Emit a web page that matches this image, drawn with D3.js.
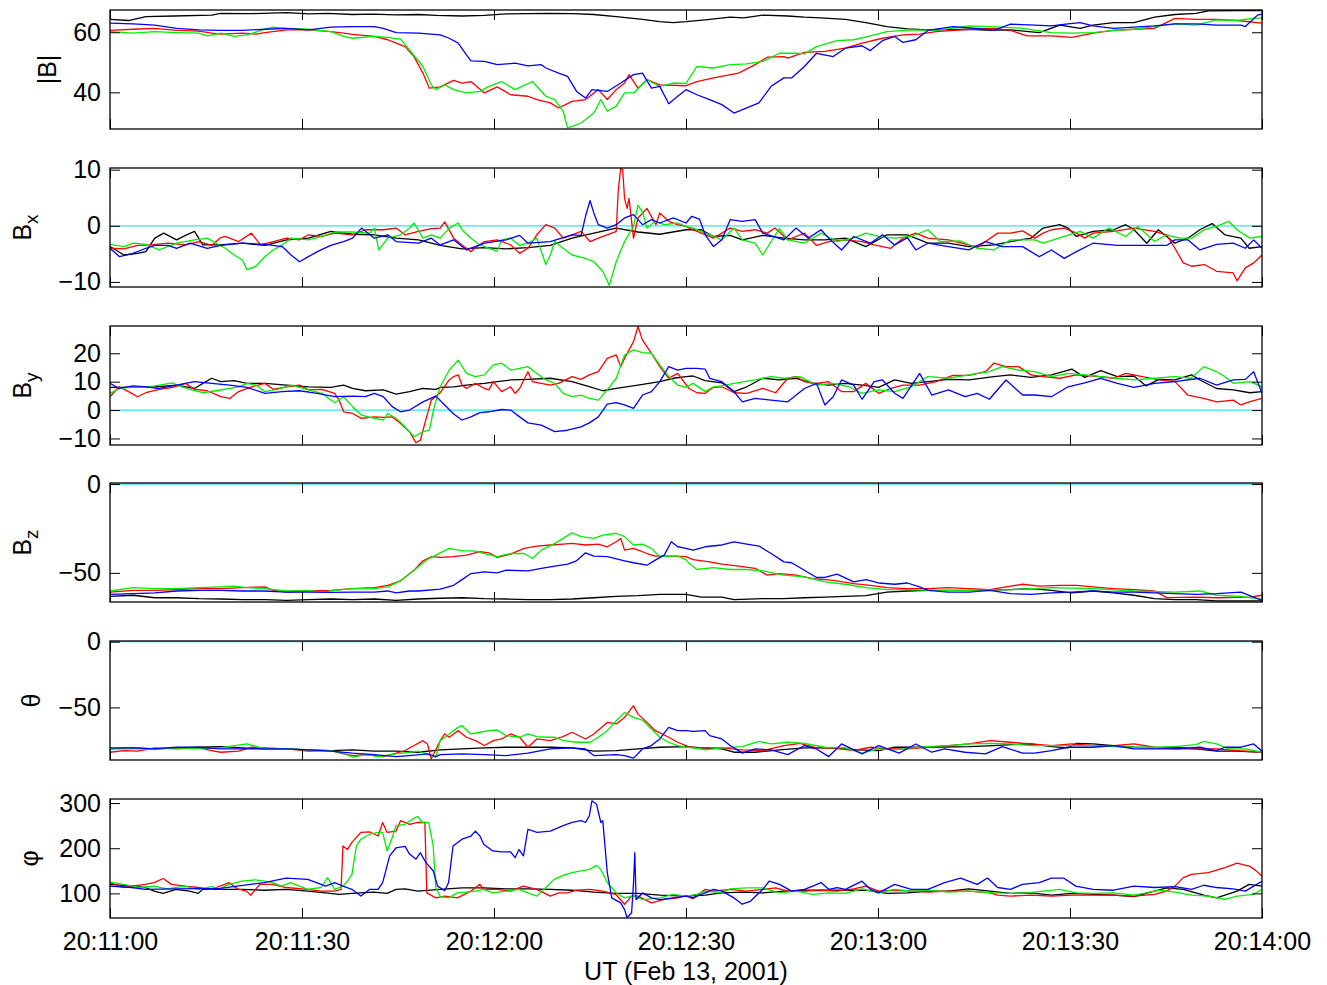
<!DOCTYPE html>
<html><head><meta charset="utf-8">
<script src="https://cdn.jsdelivr.net/npm/d3@7"></script>
<style>body{margin:0;background:#fff}text{font-family:"Liberation Sans",Arial,Helvetica,sans-serif}</style>
</head><body><svg id="c" width="1327" height="985"></svg>
<script>
// ---------------- data (time in seconds after 20:11:00, value) ----------------
const timeTicks=[0,30,60,90,120,150,180];
const timeLabels=["20:11:00","20:11:30","20:12:00","20:12:30","20:13:00","20:13:30","20:14:00"];
const xTitle="UT (Feb 13, 2001)";
const seriesColors=["#000000","#ff0000","#00ee00","#0000ff"];

const bmagTicks=[40,60];
const bmag_c1=[[0,64.3],[2.9,63.9],[5.6,65.2],[10,65.4],[15.9,65.7],[17.3,66.3],[22,66.2],[27.6,66.5],[31,66.1],[34,66.3],[37.9,65.9],[41,66.0],[44.7,65.8],[48.2,65.9],[51,65.6],[55,65.4],[58.5,65.6],[61.9,66.1],[65,66.2],[68.8,66.3],[72.2,66.2],[75.6,65.9],[79.1,65.2],[83.2,64.3],[85.9,63.5],[88,63.2],[90,63.5],[93,64.1],[96.9,65.0],[99,64.8],[102,65.7],[105.9,65.4],[108.5,65.0],[111,64.8],[114.9,64.3],[118.1,63.2],[121.4,61.9],[124.6,61.1],[127.8,60.8],[131,60.9],[134.2,61.0],[137,60.7],[140.7,60.8],[145.2,59.9],[148.4,62.4],[151.6,61.3],[153.6,62.4],[156.8,63.2],[160,63.2],[163.2,65.0],[166.4,65.9],[169.7,66.3],[171.6,67.1],[176.1,67.2],[180,67.2]];
const bmag_c2=[[0,60.6],[3.6,61.0],[7,61.3],[10.4,60.6],[13.9,60.4],[15.9,59.7],[17.3,59.4],[20.7,59.7],[22.8,59.4],[24.2,59.9],[27.6,60.8],[31,60.8],[34.5,60.2],[36.5,59.7],[37.9,59.3],[41.3,58.6],[43.4,57.5],[44.7,56.4],[46.1,55.2],[47.5,51.9],[48.9,46.4],[49.9,41.4],[51.6,41.8],[53.7,44.0],[55,43.1],[56.4,43.6],[58.5,39.8],[60.5,41.8],[62.6,39.2],[65.3,38.7],[66.7,37.6],[68.8,36.5],[70.1,34.8],[72.2,37.0],[74.3,37.6],[76.3,40.9],[77.7,37.6],[79.1,40.9],[80.4,43.1],[81.1,45.9],[82.5,41.4],[83.9,44.2],[85.9,42.5],[90,42.2],[91.7,43.6],[94.3,44.8],[98.2,46.4],[100.8,49.2],[102.7,51.7],[105.3,51.9],[105.9,51.4],[108.5,53.3],[111.7,53.6],[114.9,54.7],[117.5,56.4],[120.7,58.0],[123.9,59.1],[126.5,59.4],[129.1,60.2],[134.2,61.0],[138.1,61.3],[140.7,60.6],[143.3,58.8],[147.1,58.8],[150.3,58.3],[153.6,59.7],[156.8,60.6],[160,61.0],[163.2,61.3],[166.4,64.6],[169.7,64.3],[172.9,64.3],[176.1,63.9],[180,63.0]];
const bmag_c3=[[0,60.2],[3.6,59.7],[7,60.2],[10.4,59.9],[13.9,59.7],[15.2,58.8],[17.3,59.7],[19.4,58.6],[21.4,59.1],[24.2,61.0],[25.5,61.7],[27.6,61.3],[31,61.0],[34.5,60.2],[36.5,58.6],[37.9,58.0],[41.3,58.6],[43.4,58.3],[45.4,57.7],[46.8,54.1],[48.9,48.6],[50.2,42.5],[50.9,40.9],[52.3,42.5],[53.7,40.9],[55.7,39.8],[57.8,40.3],[59.2,42.0],[61.2,43.6],[63.3,40.9],[66,43.6],[68.1,38.7],[69.5,37.6],[70.8,33.7],[71.5,28.2],[72.2,28.7],[73.6,29.8],[75.6,33.1],[76.7,37.6],[77.7,33.7],[79.1,35.4],[80.4,39.8],[81.8,39.8],[83.9,44.2],[85.9,42.0],[88,43.1],[90,43.0],[91.7,48.6],[94.3,48.1],[96.9,49.2],[99.5,49.5],[102,50.3],[104.6,53.0],[107.2,53.0],[108.5,52.8],[110.4,55.2],[113.6,57.2],[116.2,57.5],[118.8,58.8],[121.4,60.2],[125.2,60.8],[129.1,60.6],[134.2,62.1],[139.4,61.7],[142.6,61.3],[147.1,59.9],[150.3,59.7],[153.6,59.9],[156.8,60.6],[160,61.0],[163.2,61.9],[166.4,62.8],[169.7,62.4],[172.9,64.1],[176.1,63.9],[178.7,64.6],[180,64.8]];
const bmag_c4=[[0,63.0],[3.6,62.8],[7,62.4],[10.4,61.3],[13.9,60.8],[17.3,60.6],[20.7,60.6],[24.2,61.0],[27.6,61.3],[31,60.8],[34.5,61.7],[37.9,61.9],[41.3,61.9],[42.7,61.3],[44.7,59.9],[48.2,59.7],[51.6,59.1],[53,58.0],[54.4,56.4],[55.7,52.5],[56.4,50.5],[58.5,50.3],[60.5,49.2],[63.3,49.7],[65.3,48.8],[67.4,49.2],[68.1,48.1],[70.1,46.4],[71.5,45.3],[72.9,40.3],[74.3,38.1],[75.3,40.9],[77.7,40.3],[79.8,43.1],[81.8,45.9],[83.2,46.4],[84.6,41.4],[85.9,42.0],[87.3,36.2],[88.7,38.7],[90,40.9],[91.7,39.2],[93.7,37.6],[95.6,35.9],[97.5,33.1],[99.5,34.8],[101.4,36.5],[103.3,42.0],[105.3,44.8],[106.5,44.8],[108.5,48.6],[110.4,53.0],[113,51.9],[114.9,54.7],[117.5,55.5],[118.8,53.9],[120.7,57.2],[122.6,58.6],[123.9,56.6],[125.9,57.5],[127.8,60.6],[131.7,61.9],[135.5,61.3],[138.1,60.6],[140.7,62.7],[144.5,62.4],[147.1,62.1],[149.7,62.8],[151.6,63.2],[153.6,62.1],[156.8,61.3],[160,61.7],[163.2,62.1],[166.4,62.8],[169.7,62.8],[172.9,62.4],[176.7,62.4],[177.4,61.9],[179.3,65.7],[180,66.0]];

const bxTicks=[-10,0,10];
const bx_c1=[[0,-3.7],[2.2,-5.2],[4.3,-4.9],[5.6,-4.6],[7,-2.2],[8.4,-1.3],[10.4,-2.5],[11.8,-1.7],[13.2,-1.0],[14.5,-3.4],[17.3,-3.4],[20.7,-3.1],[24.2,-3.5],[27.6,-2.5],[31,-2.2],[34.5,-1.0],[37.9,-1.5],[41.3,-1.6],[44.7,-2.2],[48.2,-2.5],[51.6,-3.5],[55,-4.1],[58.5,-3.9],[61.9,-4.1],[65.3,-3.9],[68.8,-3.5],[72.2,-2.2],[75.6,-1.3],[79.1,-0.4],[82.5,-1.1],[85.9,-1.5],[90,-0.7],[92.4,-0.7],[94.3,-1.9],[96.9,-1.7],[98.8,-2.5],[102,-1.7],[105.3,-2.2],[108.5,-2.5],[111.7,-2.5],[114.9,-2.2],[118.1,-3.7],[121.4,-1.6],[124.6,-1.6],[127.8,-3.1],[131,-3.1],[134.2,-3.7],[138.1,-3.4],[140.7,-2.8],[143.9,-2.2],[145.8,-0.4],[148.4,0.2],[149.7,-0.4],[151,-1.9],[153.6,-1.0],[156.8,-0.7],[158.7,0.2],[160,-0.7],[162,-3.1],[163.8,-0.7],[166.4,-3.1],[168.4,-2.2],[170.3,-0.7],[172.2,0.4],[174.2,-1.6],[176.7,-2.2],[178,-4.0],[180,-3.7]];
const bx_c2=[[0,-4.0],[2.2,-4.1],[4.3,-3.5],[6.4,-3.4],[9.1,-3.1],[11.8,-3.4],[13.9,-2.8],[15.9,-3.5],[17.3,-2.1],[18.0,-1.9],[20.1,-2.8],[22.1,-1.3],[23.5,-3.4],[25.5,-2.8],[27.6,-2.2],[29.6,-2.5],[31,-1.6],[33.1,-1.9],[35.1,-1.3],[37.9,-1.6],[39.9,-0.7],[42.7,-0.7],[44.7,-0.4],[46.1,-1.6],[48.2,-1.0],[50.2,-0.5],[51.6,-0.4],[52.3,0.7],[53.7,-2.2],[55,-3.4],[56.4,-4.6],[57.1,-3.9],[58.5,-2.8],[60.5,-2.5],[62.6,-3.4],[64,-4.9],[65.3,-4.0],[66.7,-1.6],[68.1,0.2],[69.5,-0.4],[70.8,-2.2],[72.2,-1.6],[73.6,-1.0],[75,-2.8],[76.3,-2.2],[77.7,-1.6],[79.1,-1.0],[79.4,6.1],[79.8,10.3],[80.1,10.0],[80.4,4.9],[80.8,3.1],[81.1,4.9],[81.8,-2.2],[82.5,1.4],[83.9,3.1],[85.3,0.2],[85.9,2.3],[87.3,0.8],[88.7,0.2],[90,-0.1],[90.5,-0.4],[92.4,-1.3],[94.3,-2.2],[96.9,-0.4],[98.8,-1.0],[100.8,-0.7],[102.7,-1.3],[103.9,-0.4],[105.9,-2.5],[107.2,-1.9],[108.5,-1.3],[110.4,-3.5],[112.3,-2.8],[114.9,-2.5],[117.5,-2.8],[119.4,-3.4],[122,-4.0],[123.9,-2.2],[125.9,-1.3],[127.8,-2.2],[131,-2.5],[134.2,-3.4],[135.5,-3.9],[136.8,-2.8],[138.7,-1.3],[140.7,-1.3],[142.6,-0.9],[144.5,-2.2],[145.8,-1.3],[147.1,-0.7],[149.1,-0.4],[151,-1.3],[152.3,-2.2],[153.6,-1.3],[156.8,-1.0],[160,-0.4],[163.2,-1.0],[165.1,-1.6],[166.4,-4.0],[167.7,-6.6],[169,-7.2],[171,-6.9],[172.9,-8.1],[175.5,-8.4],[176.1,-9.8],[177.4,-7.5],[178.7,-6.6],[180,-5.2]];
const bx_c3=[[0,-3.3],[2.2,-3.7],[3.6,-3.1],[5.6,-3.3],[7.7,-4.3],[10.4,-3.1],[13.2,-2.5],[15.2,-2.2],[16.6,-3.1],[18,-4.0],[19.4,-5.2],[20.7,-6.1],[21.4,-7.8],[22.8,-7.2],[24.2,-5.5],[25.5,-4.3],[26.9,-3.4],[28.3,-2.2],[31,-2.5],[33.1,-1.9],[35.1,-1.1],[37.9,-1.1],[40.6,-1.3],[41.3,-0.4],[42,-4.3],[43.4,-2.2],[45.4,-1.6],[46.8,-0.4],[47.5,0.5],[48.9,-2.2],[50.2,-1.6],[51.6,-2.2],[53,-0.4],[54.4,0.5],[55,-0.7],[56.4,-2.2],[57.8,-3.4],[59.2,-4.0],[60.5,-4.5],[61.2,-2.5],[62.6,-2.2],[64,-3.5],[65.3,-3.1],[66.7,-2.2],[67.4,-4.6],[68.1,-6.9],[68.8,-5.2],[69.5,-2.8],[70.8,-4.0],[72.2,-5.2],[74.3,-5.8],[75.6,-6.4],[77,-8.1],[78,-10.6],[79.1,-6.4],[80.4,-2.8],[81.8,-0.1],[82.5,3.7],[83.2,2.5],[83.9,-0.4],[85.2,0.8],[86.6,0.2],[88.7,0.5],[90,-0.1],[91.1,-0.4],[93,-1.3],[95.6,-2.5],[97.5,-0.4],[98.8,-2.5],[100.8,-3.1],[102,-5.2],[103.3,-2.8],[104.6,-0.5],[105.9,-2.5],[108.5,-3.1],[111.1,-1.3],[113.6,-2.8],[116.2,-2.2],[118.1,-1.3],[120.1,-1.9],[122.6,-2.2],[125.2,-1.9],[127.8,-0.7],[129.7,-2.8],[132.9,-2.7],[135.5,-4.0],[138.1,-4.3],[140.7,-2.5],[144.5,-2.5],[145.8,-3.1],[149.1,-1.9],[151.6,-1.0],[153.6,-2.2],[156.1,-0.4],[158.7,-1.9],[160.6,-0.1],[163.2,-2.8],[165.1,-1.6],[167.1,-2.2],[169,-2.2],[171,-0.7],[172.9,-0.1],[174.8,0.8],[176.1,-0.7],[178.1,-2.2],[180,-1.9]];
const bx_c4=[[0,-4.0],[1.5,-5.5],[3.6,-4.9],[5.6,-4.0],[7,-3.5],[9.1,-3.5],[10.4,-4.0],[12.5,-3.1],[15.2,-4.0],[17.3,-3.5],[20.7,-3.1],[24.2,-3.3],[26.9,-3.7],[28.3,-5.2],[29.6,-6.4],[31,-5.5],[32.4,-4.6],[34.5,-3.5],[36.5,-2.8],[37.9,-2.2],[39.3,-0.4],[41.3,-2.2],[43.4,-1.6],[44.7,-2.8],[48.2,-3.1],[50.2,-2.2],[51.6,-3.4],[53.7,-2.5],[55.7,-4.3],[58.5,-3.1],[61.9,-2.5],[64,-1.7],[65.3,-3.1],[68.8,-2.8],[72.2,-1.6],[73.6,-1.7],[74.3,1.7],[75,4.5],[75.6,2.3],[76.3,0.2],[77.7,-0.4],[79.1,0.2],[80.4,1.4],[81.8,2.0],[83.2,0.2],[84.6,1.1],[85.9,0.5],[88,1.4],[90,0.5],[90.9,1.7],[92.1,1.2],[93.0,-1.6],[94.3,-3.7],[95.6,-2.5],[96.9,1.1],[98.8,0.8],[100.8,1.1],[102,-1.3],[105.3,-2.5],[107.2,-0.4],[109.1,-2.2],[111.1,-0.7],[112.3,-2.2],[114.3,-4.3],[116.2,-1.9],[118.8,-3.1],[120.7,-1.6],[122.6,-3.4],[124.6,-2.1],[125.9,-4.3],[127.8,-3.1],[131,-3.7],[134.2,-4.3],[136.8,-2.8],[139.4,-3.7],[142.6,-3.7],[145.2,-5.5],[147.1,-4.3],[149.1,-5.8],[151,-4.6],[153.6,-3.1],[157.4,-3.5],[160,-3.5],[161.9,-3.5],[165.1,-3.5],[166.4,-2.5],[168.4,-2.5],[170.3,-4.3],[172.9,-3.3],[175.5,-3.1],[177.4,-4.0],[178.7,-2.5],[180,-4.0]];

const byTicks=[-10,0,10,20];
const by_c1=[[0,8.0],[3.6,8.0],[7,8.2],[10.4,8.8],[13.2,7.6],[14.5,9.4],[15.9,11.2],[17.3,10.0],[19.4,10.4],[21.4,9.4],[24.2,9.4],[27.6,8.8],[31,8.2],[34.5,8.0],[36.5,8.8],[37.9,7.6],[39.9,6.8],[42.7,7.1],[44.7,5.6],[46.8,6.5],[48.9,7.6],[50.9,7.3],[51.6,8.0],[53.7,8.2],[55.7,8.8],[58.5,9.4],[60.5,10.0],[62.6,10.6],[65.3,10.8],[68.8,11.2],[72.2,10.0],[75,8.2],[77,6.8],[79.1,7.6],[82.5,8.8],[85.9,10.0],[88,11.2],[90,11.8],[91.1,12.0],[93,10.4],[95.6,9.6],[97.5,6.5],[99.5,8.2],[102,11.2],[104.6,10.6],[107.2,11.2],[109.8,9.4],[112.3,8.8],[114.9,9.4],[117.5,8.8],[120.1,8.0],[122.6,10.6],[125.2,9.4],[127.8,10.0],[131,10.8],[134.2,10.6],[138.1,11.8],[140.7,12.4],[143.9,11.5],[147.1,12.4],[150.3,14.4],[152.3,11.5],[154.8,13.9],[157.4,11.8],[160,12.0],[161.9,8.5],[163.9,10.8],[166.4,10.6],[169,12.4],[170.3,10.6],[172.9,7.6],[175.5,7.1],[178.1,6.1],[180,6.5]];
const by_c2=[[0,4.7],[1.4,8.2],[2.9,6.5],[4.3,4.7],[5.6,6.1],[7.7,7.3],[9.8,8.0],[11.8,9.4],[13.2,7.3],[15.2,6.8],[17.3,4.7],[18.7,4.1],[20.1,6.5],[22.1,8.2],[24.2,9.4],[25.5,7.3],[27.6,8.2],[29.6,8.8],[31,7.1],[33.1,7.3],[35.1,5.9],[35.8,3.5],[36.5,-0.6],[37.9,-1.2],[39.3,-2.9],[41.3,-2.4],[42.7,-2.6],[44.1,-2.4],[44.7,-3.5],[45.4,-4.7],[46.8,-7.6],[47.8,-11.5],[48.5,-10.6],[49.2,-4.7],[50.2,3.5],[51.6,6.1],[53,10.6],[53.7,11.8],[54.4,12.4],[55,8.8],[55.7,7.6],[57.1,9.4],[58.5,7.6],[59.2,7.1],[59.9,10.0],[61.2,6.5],[62.6,8.2],[63.3,5.9],[64,7.6],[65.3,13.5],[66,10.0],[67.4,9.4],[68.8,8.8],[70.1,9.4],[72.2,11.8],[73.6,10.8],[74.9,12.4],[76.3,13.5],[77.7,18.2],[79.1,19.4],[79.8,15.3],[80.4,18.2],[81.8,24.1],[82.5,29.4],[83.2,24.7],[84.6,20.0],[85.9,15.3],[87.3,11.2],[88.7,12.9],[90,9.0],[90.5,7.6],[91.7,6.1],[93,5.9],[94.3,8.0],[95.6,8.2],[97.5,6.1],[99.5,5.9],[102,7.6],[104,6.1],[105.9,11.2],[107.2,11.8],[108.5,10.0],[110.4,9.4],[112.3,10.0],[114.3,6.5],[116.2,6.5],[118.1,9.4],[120.1,5.9],[122,7.6],[123.9,8.8],[126.5,8.8],[129.1,10.0],[131.7,12.2],[134.2,12.2],[136.8,13.5],[138.1,16.5],[140,15.3],[142,15.3],[143.9,12.4],[145.8,11.8],[148.4,11.2],[151,12.4],[153.6,12.0],[156.8,11.2],[158.7,12.9],[161.3,11.8],[163.9,10.6],[166.4,10.0],[168.4,5.3],[170.9,4.1],[172.9,2.9],[175.5,3.5],[176.7,1.8],[178,2.9],[180,4.1]];
const by_c3=[[0,5.9],[1.5,7.6],[3.6,8.2],[5.6,8.0],[7.7,8.8],[9.8,9.6],[10.4,8.8],[12.5,7.3],[14.5,6.1],[16.6,6.8],[18.7,7.6],[20.1,8.2],[21.4,9.4],[22.8,8.8],[24.2,6.5],[26.2,7.3],[28.3,8.8],[31,7.1],[33.1,5.9],[35.1,2.6],[36.5,4.7],[37.9,1.2],[39.3,-1.8],[41.3,-2.9],[42.7,-3.5],[43.4,-1.2],[44.7,-2.9],[46.1,-5.9],[47.5,-9.4],[48.9,-7.6],[49.9,-7.1],[50.6,0.6],[51.6,8.2],[53,14.1],[54.4,17.6],[55.7,12.9],[57.1,11.8],[58.5,12.4],[59.9,15.9],[61.2,16.5],[62.6,14.1],[64,14.7],[65.3,15.3],[66.7,12.9],[68.1,10.6],[69.5,9.4],[70.8,5.9],[72.2,4.7],[73.6,5.3],[74.9,4.1],[76.3,3.5],[77.7,7.1],[79.1,11.2],[80.4,19.4],[81.8,21.2],[83.2,20.2],[84.6,20.0],[85.9,15.9],[87.3,11.8],[88.7,8.8],[90,8.0],[91.1,9.4],[93,6.5],[94.3,8.2],[95.6,8.5],[97.5,9.4],[100.8,10.6],[103.3,11.8],[105.3,11.2],[107.8,11.8],[110.4,8.8],[112.9,9.4],[115.5,8.2],[117.5,5.9],[120.1,7.1],[122.6,6.5],[125.2,8.2],[127.8,11.8],[131,11.2],[134.2,12.4],[137.4,13.5],[139.4,15.3],[141.9,14.1],[144.5,13.5],[147.1,11.8],[149.7,12.9],[152.3,12.4],[154.8,11.8],[157.4,11.2],[160,10.6],[163.2,11.2],[166.4,11.8],[168.9,11.2],[170.9,15.3],[172.9,13.5],[174.2,11.8],[175.5,9.4],[178.1,10.0],[180,8.2]];
const by_c4=[[0,9.4],[1.4,7.6],[3.6,8.5],[5.6,8.2],[7.7,7.6],[10.4,8.8],[13.2,10.0],[15.9,9.4],[18.7,8.8],[21.4,8.0],[24.2,5.9],[26.9,6.5],[29.6,6.8],[32.4,5.9],[35.1,4.7],[37.9,4.9],[39.9,4.7],[41.3,5.9],[42.7,4.7],[44.1,1.2],[45.4,-0.6],[46.8,0.0],[48.9,2.9],[50.9,4.9],[52.3,1.8],[53.7,-1.4],[55,-3.5],[56.4,-2.4],[57.8,-0.9],[59.2,-0.6],[61.2,0.2],[62.6,0.0],[64,-2.4],[65.3,-4.5],[67.4,-5.3],[69.5,-7.6],[71.5,-7.1],[73.6,-5.9],[74.9,-4.5],[76.3,-2.4],[77.7,2.1],[79.1,2.6],[80.4,1.8],[81.8,0.6],[83.2,5.3],[84.6,6.5],[85.9,10.0],[87.3,15.3],[88.7,14.1],[90,14.7],[91.7,14.7],[93,14.4],[93.7,11.2],[95.6,10.0],[97.5,6.5],[98.8,2.9],[100.8,4.1],[103.3,3.5],[105.9,2.9],[108.5,7.6],[110.4,9.4],[111.7,1.8],[113,4.7],[114.3,10.6],[116.2,8.8],[117.5,3.8],[119.4,10.0],[120.7,10.6],[122.6,5.9],[123.9,4.1],[126.5,12.9],[128.4,5.3],[131,7.1],[133.6,4.7],[135.5,5.9],[137.4,3.8],[140,10.6],[142.6,5.3],[144.5,5.3],[147.1,4.7],[149.7,8.2],[152.3,9.6],[154.8,11.2],[157.4,9.4],[160,8.0],[163.2,9.4],[166.4,10.0],[170.3,11.2],[172.9,8.8],[175.5,10.6],[177.4,10.8],[178.7,13.5],[180,5.9]];

const bzTicks=[-50,0];
const bz_c1=[[0,-63.2],[3.6,-62.6],[7,-64.0],[10.4,-64.0],[13.9,-64.5],[17.3,-64.7],[20.7,-65.1],[24.2,-65.1],[27.6,-65.5],[31,-65.1],[34.5,-64.7],[37.9,-65.1],[41.3,-64.7],[44.7,-65.5],[48.2,-64.7],[51.6,-64.3],[55,-64.0],[58.5,-64.5],[61.9,-64.7],[65.3,-65.1],[68.8,-65.1],[72.2,-64.7],[75.6,-64.0],[79.1,-63.2],[82.5,-62.8],[85.9,-62.1],[90,-62.1],[92.4,-63.6],[95.6,-63.6],[97.5,-65.1],[102,-64.5],[105.3,-64.5],[108.5,-64.0],[111.7,-63.6],[114.9,-63.2],[118.1,-62.8],[121.4,-60.8],[124.6,-60.2],[127.8,-59.8],[134.2,-59.8],[140.7,-59.4],[143.9,-58.9],[147.1,-59.8],[150.3,-61.3],[153.6,-60.2],[156.8,-61.3],[160,-62.6],[163.2,-64.5],[166.4,-65.1],[169.7,-65.1],[172.9,-65.8],[180,-65.8]];
const bz_c2=[[0,-60.8],[3.6,-59.8],[7,-59.8],[10.4,-59.4],[13.9,-58.9],[17.3,-58.9],[20.7,-58.3],[24.2,-57.9],[25.5,-59.8],[27.6,-60.8],[31,-60.2],[34.5,-59.8],[37.9,-58.9],[41.3,-58.3],[43.4,-57.0],[45.4,-54.5],[47.5,-48.5],[48.9,-43.2],[50.2,-40.9],[51.6,-41.3],[53.7,-40.9],[55.7,-40.0],[57.8,-38.1],[59.2,-38.7],[60.5,-41.3],[62.6,-39.4],[64.7,-36.2],[66.7,-34.9],[68.8,-34.3],[70.8,-33.8],[72.2,-33.4],[74.3,-34.3],[76.3,-33.8],[77.7,-35.3],[79.1,-32.5],[79.8,-30.6],[80.4,-37.2],[81.8,-36.2],[83.9,-39.1],[85.2,-40.6],[88,-40.6],[90,-40.9],[91.1,-42.5],[93.7,-43.8],[95.6,-45.1],[98.2,-46.2],[100.8,-47.5],[102.7,-51.3],[104.6,-50.4],[107.2,-51.3],[109.8,-53.2],[113,-54.2],[116.2,-56.0],[118.8,-57.0],[121.4,-58.3],[124.6,-58.9],[127.8,-58.9],[131,-58.3],[134.2,-58.9],[137.5,-59.4],[140.7,-57.5],[142.6,-56.4],[145.2,-57.5],[148.4,-57.0],[151,-57.0],[153.6,-57.9],[156.8,-58.9],[160,-59.4],[163.2,-60.2],[165.1,-63.9],[169.7,-63.6],[172.9,-64.0],[178.1,-63.6],[180,-62.6]];
const bz_c3=[[0,-60.2],[3.6,-58.3],[7,-58.9],[10.4,-58.9],[13.9,-58.3],[17.3,-57.9],[19.4,-57.5],[21.4,-58.3],[24.2,-58.9],[27.6,-60.2],[31,-59.8],[33.1,-60.8],[35.1,-59.8],[37.9,-58.9],[41.3,-58.9],[43.4,-57.9],[45.4,-54.5],[47.5,-48.5],[49.6,-42.5],[50.9,-40.0],[53,-36.2],[55,-37.5],[57.1,-37.7],[58.5,-39.1],[60.5,-40.9],[62.6,-39.1],[64.7,-39.1],[66,-41.9],[67.4,-37.2],[69.5,-33.4],[70.8,-30.6],[72.2,-27.4],[73.6,-29.6],[75.6,-30.6],[77,-28.7],[79.1,-27.7],[80.4,-29.6],[81.8,-34.3],[83.2,-33.8],[84.6,-36.2],[85.9,-40.9],[87.3,-40.6],[88.7,-40.6],[90,-42.5],[90.5,-44.7],[91.7,-48.1],[94.3,-47.0],[96.9,-48.1],[99.5,-48.1],[102,-48.9],[105.3,-51.3],[108.5,-52.3],[111.7,-55.1],[114.9,-56.4],[118.1,-58.3],[121.4,-59.4],[124.6,-59.4],[127.8,-59.8],[134.2,-59.8],[140.7,-59.4],[147.1,-58.3],[153.6,-58.9],[160,-60.2],[166.4,-60.8],[170.3,-60.2],[172.9,-62.6],[176.7,-63.2],[179.3,-64.5],[180,-65.0]];
const bz_c4=[[0,-62.1],[3.6,-61.7],[7,-61.3],[10.4,-60.2],[13.9,-59.8],[17.3,-59.8],[20.7,-60.2],[24.2,-60.2],[27.6,-60.8],[31,-60.8],[34.5,-61.0],[37.9,-60.8],[41.3,-60.8],[43.4,-60.2],[44.7,-61.3],[46.8,-60.2],[48.2,-60.2],[51.6,-59.1],[53.7,-57.0],[55,-53.8],[56.4,-50.4],[58.5,-49.4],[60.5,-50.0],[61.9,-48.5],[65.3,-48.9],[67.4,-47.5],[69.5,-46.2],[71.5,-45.1],[72.9,-43.2],[74.3,-38.7],[75.6,-40.6],[77.7,-40.9],[80.4,-43.2],[81.8,-44.3],[83.9,-45.7],[85.2,-42.8],[86.6,-40.0],[87.7,-32.5],[88.7,-35.3],[90,-36.2],[91.1,-37.2],[93,-35.3],[95.6,-34.3],[97.5,-32.5],[99.5,-33.8],[101.4,-34.9],[103.3,-39.1],[105.3,-43.8],[106.5,-44.3],[108.5,-48.5],[110.4,-52.6],[111.7,-52.6],[113.6,-50.7],[116.2,-55.1],[118.1,-53.8],[120.1,-55.7],[122.6,-56.4],[124.6,-55.7],[126.5,-57.9],[127.8,-59.8],[131,-60.8],[134.2,-60.8],[137.5,-59.8],[140.7,-61.7],[143.9,-62.1],[147.1,-61.3],[150.3,-60.8],[153.6,-60.2],[156.8,-60.8],[160,-60.8],[163.2,-61.3],[166.4,-61.7],[169.7,-62.1],[172.9,-61.7],[176.7,-60.8],[180,-65.5]];

const thetaTicks=[-50,0];
const th_c1=[[0,-81.6],[3.6,-80.8],[7,-81.6],[10.4,-80.8],[13.9,-80.3],[17.3,-79.8],[20.7,-80.8],[24.2,-81.6],[27.6,-81.6],[31,-82.3],[34.5,-82.8],[37.9,-82.3],[41.3,-83.3],[44.7,-83.3],[48.2,-84.1],[51.6,-82.3],[55,-81.6],[58.5,-80.8],[61.9,-80.3],[65.3,-80.3],[68.8,-80.3],[72.2,-80.8],[75.6,-83.3],[79.1,-82.8],[82.5,-81.6],[85.9,-80.3],[90,-79.8],[92.4,-80.8],[95.6,-81.6],[97.5,-84.1],[100.8,-84.1],[104.6,-82.3],[108.5,-80.8],[111.7,-80.8],[114.9,-81.6],[116.9,-82.3],[120.1,-82.8],[122.6,-80.3],[125.2,-80.3],[127.8,-80.3],[134.2,-79.8],[138.1,-79.0],[140.7,-78.3],[143.9,-77.8],[147.1,-79.8],[149.7,-80.8],[151,-77.3],[153.6,-77.8],[156.8,-79.0],[160,-80.3],[163.2,-80.8],[166.4,-80.3],[169.7,-81.6],[172.9,-83.3],[176.1,-83.3],[180,-84.1]];
const th_c2=[[0,-84.1],[2.2,-82.8],[4.3,-83.3],[7,-80.8],[10.4,-81.6],[13.9,-80.8],[15.9,-82.8],[17.3,-84.1],[20.1,-83.3],[22.1,-80.3],[24.2,-80.8],[27.6,-81.6],[31,-83.3],[34.5,-82.8],[36.5,-85.4],[37.9,-86.6],[40,-85.9],[42.7,-87.4],[44.7,-84.8],[46.1,-82.8],[47.5,-79.0],[48.9,-75.3],[49.6,-77.8],[50.2,-89.1],[51.6,-75.3],[52.3,-70.2],[53,-72.7],[54.4,-67.7],[55.7,-72.7],[57.1,-75.3],[58.5,-79.0],[59.9,-75.3],[61.2,-74.0],[62.6,-70.2],[64,-72.7],[65.3,-80.3],[66.7,-74.0],[68.8,-75.3],[70.8,-72.2],[72.2,-68.9],[74.3,-74.0],[75.6,-70.2],[77.7,-61.4],[79.1,-62.6],[80.4,-57.6],[81.8,-48.7],[82.5,-55.1],[83.9,-61.4],[85.2,-67.7],[87.3,-72.7],[88.7,-76.5],[90,-79.0],[90.5,-80.3],[93,-80.8],[95.6,-80.8],[98.8,-82.3],[102,-82.8],[105.3,-79.0],[107.8,-77.3],[110.4,-80.8],[113,-80.8],[116.2,-82.8],[118.8,-80.3],[121.4,-81.6],[124.6,-81.6],[127.8,-80.3],[131,-79.0],[134.2,-77.8],[137.5,-75.3],[140.7,-76.5],[143.9,-77.8],[147.1,-79.0],[150.3,-77.8],[153.6,-79.0],[156.8,-79.0],[160,-77.8],[163.2,-80.3],[166.4,-81.6],[169.7,-81.6],[172.9,-81.6],[176.1,-82.8],[180,-84.1]];
const th_c3=[[0,-81.6],[3.6,-81.6],[7,-81.6],[10.4,-80.8],[13.9,-81.6],[17.3,-80.8],[19.4,-79.0],[21.4,-77.8],[24.2,-81.6],[27.6,-81.6],[31,-82.3],[34.5,-82.8],[36.5,-84.8],[37.9,-87.9],[39.9,-85.9],[42,-87.4],[44.7,-85.4],[48.2,-83.3],[50.9,-87.9],[51.6,-75.3],[53,-70.2],[54.4,-65.2],[55,-63.9],[56.4,-70.2],[57.8,-68.9],[59.2,-67.7],[60.5,-67.2],[61.9,-71.5],[64,-72.7],[65.3,-70.2],[66.7,-72.2],[68.1,-72.7],[69.5,-72.7],[70.8,-75.3],[72.9,-76.5],[75,-76.5],[76.3,-72.7],[77.7,-67.7],[79.1,-60.1],[80.4,-53.8],[81.8,-57.6],[83.2,-59.6],[84.6,-66.4],[85.9,-72.7],[87.3,-76.5],[88.7,-79.0],[90,-80.3],[91.1,-80.8],[93,-82.3],[95.6,-80.8],[98.8,-79.8],[101.4,-75.8],[103.3,-77.8],[105.9,-76.5],[108.5,-77.3],[111.7,-80.3],[114.9,-80.8],[117.5,-84.8],[120.1,-81.6],[122.6,-82.3],[125.2,-80.8],[127.8,-79.8],[131,-79.0],[134.2,-77.8],[137.5,-77.3],[140.7,-77.8],[143.9,-79.0],[147.1,-79.0],[150.3,-79.0],[153.6,-79.0],[156.8,-79.8],[160,-80.3],[163.2,-80.3],[166.4,-79.8],[169.7,-78.3],[170.9,-75.8],[172.9,-77.8],[174.8,-81.6],[177.4,-81.6],[180,-84.1]];
const th_c4=[[0,-80.8],[3.6,-80.8],[7,-81.6],[10.4,-80.3],[13.9,-80.3],[17.3,-81.6],[20.7,-81.6],[24.2,-81.6],[27.6,-81.6],[31,-82.3],[34.5,-83.3],[37.9,-84.8],[41.3,-85.9],[44.7,-87.4],[46.8,-86.6],[49.6,-85.4],[50.9,-87.4],[51.6,-85.9],[55,-85.4],[58.5,-85.9],[61.9,-86.6],[65.3,-84.8],[68.8,-81.6],[72.2,-80.8],[74.3,-81.6],[75.6,-86.6],[79.1,-85.9],[80.4,-86.6],[81.8,-88.6],[83.2,-81.6],[84.6,-79.0],[85.9,-74.0],[87.3,-65.2],[88.7,-67.7],[90,-67.7],[91.1,-68.2],[93,-67.7],[93.7,-71.5],[95.6,-74.0],[96.9,-79.0],[98.8,-84.8],[100.8,-81.6],[103.3,-82.3],[105.9,-85.9],[108.5,-79.0],[110.4,-81.6],[112.3,-87.4],[114.3,-77.8],[117.5,-85.4],[120.1,-79.0],[123.3,-84.8],[125.9,-77.8],[128.4,-84.1],[130.4,-81.6],[133.6,-84.1],[136.8,-85.4],[139.4,-79.8],[142.6,-84.8],[144.5,-84.8],[147.1,-82.8],[149.7,-80.3],[153.6,-80.3],[156.8,-79.0],[160,-81.6],[163.2,-81.6],[166.4,-81.6],[170.3,-80.3],[172.9,-82.8],[174.2,-80.3],[176.7,-80.3],[178.7,-77.8],[180,-83.3]];

const phiTicks=[100,200,300];
const ph_c1=[[0,120],[3.4,116],[5.5,113],[6.9,105],[8.3,100],[10.3,109],[12.4,105],[13.8,100],[14.5,109],[17.2,109],[20.6,109],[24.1,107],[27.5,109],[30.9,105],[34.4,100],[35.8,98],[37.8,100],[41.2,103],[43.3,100],[44.7,109],[46.1,110],[48.1,105],[51.6,109],[55,112],[58.4,112],[61.9,110],[65.3,110],[68.8,109],[72.2,107],[75.6,103],[79.1,100],[82.5,100],[85.9,96],[90,94],[93,96],[95.6,101],[98.8,103],[102,101],[105.3,105],[108.5,107],[111.7,107],[114.9,107],[118.1,107],[121.4,100],[124.6,101],[127.8,105],[131,105],[134.2,110],[137.5,105],[140.7,100],[143.9,101],[147.1,96],[150.3,100],[153.6,98],[156.8,96],[160,93],[163.2,105],[165.1,112],[167.7,109],[170.9,96],[172.9,90],[176.1,105],[178,120],[180,116]];
const ph_c2=[[0,124],[2.1,113],[3.4,116],[5.5,120],[6.9,124],[8.3,133],[9.6,120],[11.7,116],[13.8,113],[15.8,109],[17.2,116],[18.6,124],[19.9,110],[21.3,105],[22,96],[23.4,120],[25.4,120],[27.5,113],[30.9,109],[33,105],[35.1,105],[36.1,109],[36.4,205],[37.1,197],[37.8,213],[39.2,235],[40.6,236],[41.9,227],[42.6,257],[43.3,235],[44.7,238],[45.4,261],[46.8,253],[48.1,257],[49.2,257],[49.5,101],[50.9,90],[52.3,94],[54.3,90],[56.4,105],[57.8,120],[58.4,109],[60.5,109],[62.6,105],[64.6,116],[66.7,109],[68.8,94],[70.1,101],[71.5,101],[72.9,107],[74.9,109],[77,105],[79.1,97],[80.4,76],[81.5,94],[82.5,94],[84.6,79],[86.6,87],[88.7,90],[90,95],[91.1,88],[93,109],[94.3,105],[96.9,109],[99.5,105],[102,109],[104,112],[105.9,105],[108.5,105],[111.1,107],[113.6,105],[116.2,110],[118.1,116],[120.1,105],[122.6,107],[125.2,105],[127.8,103],[131,105],[134.2,105],[137.5,101],[138.7,96],[140.7,94],[143.9,96],[147.1,94],[150.3,96],[153.6,96],[156.8,96],[160,94],[163.2,98],[165.1,105],[166.4,116],[167.7,135],[169,142],[171.6,146],[174.2,157],[176.1,167],[178.1,160],[179,151],[180,138]];
const ph_c3=[[0,125],[2.1,120],[4.8,113],[6.9,116],[8.9,110],[11.7,116],[13.8,109],[15.8,115],[17.2,110],[18.6,120],[20.6,127],[22.7,130],[24.1,127],[25.4,124],[26.8,116],[28.2,124],[29.6,116],[30.9,109],[33,113],[34,135],[35.1,109],[36.4,116],[37.1,127],[37.8,142],[38.5,205],[39.2,220],[40.6,231],[41.9,235],[42.6,235],[43.3,194],[44,220],[44.7,250],[46.1,253],[47.4,266],[48.1,270],[48.8,257],[49.8,257],[50.5,205],[50.9,113],[51.6,93],[52.9,90],[54.3,101],[55.7,103],[57.1,105],[58.4,109],[59.8,101],[61.9,105],[63.9,109],[65.3,101],[66.7,94],[68.1,113],[69.4,131],[70.8,140],[72.2,146],[73.6,150],[74.9,153],[76,162],[76.7,153],[77.7,124],[79.1,101],[80.4,90],[81.8,95],[83.2,86],[85.9,90],[88,98],[90,94],[91.7,98],[93,105],[95.6,101],[96.9,110],[99.5,112],[102,112],[104.6,101],[107.2,105],[109.8,98],[112.3,101],[114.9,100],[117.5,110],[120.1,101],[122.6,109],[125.2,105],[127.8,107],[131,103],[134.2,105],[138.1,101],[140.7,100],[143.3,101],[145.8,105],[148.4,109],[151,101],[153.6,100],[156.8,101],[160,96],[161.9,101],[163.9,107],[166.4,103],[169,96],[171.6,94],[174.2,87],[176.1,94],[178.7,98],[180,109]];
const ph_c4=[[0,116],[3.4,113],[5.5,109],[10.3,110],[17.2,111],[24.1,124],[27.5,134],[30.9,131],[33.7,116],[35.1,124],[36.4,116],[37.8,109],[39.2,94],[40.6,109],[41.9,109],[42.6,124],[43.7,183],[44.7,201],[46.1,204],[46.8,187],[47.8,176],[48.5,190],[49.2,172],[49.8,161],[50.5,150],[51.2,116],[52.3,106],[52.9,124],[53.6,205],[55,220],[56.4,227],[57.1,238],[57.8,227],[58.4,209],[59.8,194],[61.2,192],[62.6,192],[63.3,179],[63.9,197],[64.6,183],[65.3,242],[66.7,235],[68.8,238],[70.8,250],[72.2,257],[73.6,261],[74.3,257],[74.9,272],[75.3,305],[76,298],[76.7,257],[77,261],[77.7,146],[78.4,90],[79.8,79],[80.4,64],[80.8,46],[81.5,57],[81.8,123],[82,190],[82.2,86],[83.2,101],[84.6,90],[85.9,86],[88,90],[90,94],[91.1,90],[93,101],[94.3,109],[95.6,105],[97.5,90],[98.8,76],[100.1,83],[102,109],[103,127],[104.6,120],[106.5,105],[108.5,109],[109.8,116],[111.1,124],[112.3,109],[113.6,113],[114.9,109],[117.5,127],[118.8,109],[120.1,101],[122.6,120],[125.2,109],[127.8,109],[130.4,124],[132.9,134],[135.5,120],[137.1,134],[138.7,113],[140.7,109],[142.6,120],[145.2,124],[147.1,134],[149,134],[150.9,116],[153.6,109],[156.8,107],[160,116],[163.2,113],[166.4,115],[169,109],[170.9,118],[172.9,113],[175.5,110],[177.4,105],[178.7,116],[180,127]];

// ---------------- layout ----------------
const W=1327,H=985, L=110, R=1262, panelH=119;
const panelTops=[10,168,326,483,641,799];
const panels=[
  {label:"|B|", sub:null, domain:[27.8,67.4], ticks:bmagTicks, zero:false, data:[bmag_c1,bmag_c2,bmag_c3,bmag_c4], labelX:56},
  {label:"B", sub:"x", domain:[-10.9,10.3], ticks:bxTicks, zero:true, data:[bx_c1,bx_c2,bx_c3,bx_c4], labelX:31},
  {label:"B", sub:"y", domain:[-12.3,29.6], ticks:byTicks, zero:true, data:[by_c1,by_c2,by_c3,by_c4], labelX:31},
  {label:"B", sub:"z", domain:[-66.4,0.6], ticks:bzTicks, zero:true, data:[bz_c1,bz_c2,bz_c3,bz_c4], labelX:31},
  {label:"θ", sub:null, domain:[-90,0.5], ticks:thetaTicks, zero:true, data:[th_c1,th_c2,th_c3,th_c4], labelX:40},
  {label:"φ", sub:null, domain:[45.5,309], ticks:phiTicks, zero:false, data:[ph_c1,ph_c2,ph_c3,ph_c4], labelX:38}
];

const svg=d3.select("#c");
svg.append("rect").attr("width",W).attr("height",H).attr("fill","#fff");
const x=d3.scaleLinear().domain([0,180]).range([L,R]);
const fmtMinus=v=>String(v).replace("-","\u2212");
const FS=25, TICK=10;

panels.forEach((p,i)=>{
  const top=panelTops[i], bot=top+panelH;
  const y=d3.scaleLinear().domain(p.domain).range([bot,top]);
  const g=svg.append("g");
  const cid="clip"+i;
  g.append("clipPath").attr("id",cid).append("rect").attr("x",L).attr("y",top).attr("width",R-L).attr("height",panelH);
  const plot=g.append("g").attr("clip-path",`url(#${cid})`);
  if(p.zero){
    plot.append("line").attr("x1",L).attr("x2",R).attr("y1",y(0)).attr("y2",y(0))
      .attr("stroke","#33e6e6").attr("stroke-width",1.3);
  }
  const line=d3.line().x(d=>x(d[0])).y(d=>y(d[1]));
  p.data.forEach((s,k)=>{
    plot.append("path").datum(s).attr("d",line).attr("fill","none")
      .attr("stroke",seriesColors[k]).attr("stroke-width",1.3).attr("stroke-linejoin","round");
  });
  const axL=d3.axisLeft(y).tickValues(p.ticks).tickSizeInner(-TICK).tickSizeOuter(0).tickFormat(fmtMinus).tickPadding(9);
  const axR=d3.axisRight(y).tickValues(p.ticks).tickSizeInner(-TICK).tickSizeOuter(0).tickFormat("");
  const axB=d3.axisBottom(x).tickValues(timeTicks).tickSizeInner(-TICK).tickSizeOuter(0)
      .tickFormat((d,j)=> i===panels.length-1 ? timeLabels[j] : "").tickPadding(14);
  const axT=d3.axisTop(x).tickValues(timeTicks).tickSizeInner(-TICK).tickSizeOuter(0).tickFormat("");
  [[axL,`translate(${L},0)`],[axR,`translate(${R},0)`],[axB,`translate(0,${bot})`],[axT,`translate(0,${top})`]].forEach(([a,t])=>{
    const ag=g.append("g").attr("transform",t).call(a);
    ag.select(".domain").remove();
    ag.selectAll("line").attr("stroke","#000").attr("stroke-width",1);
    ag.selectAll("text").attr("fill","#000").style("font-size",FS+"px").style("font-family","'Liberation Sans',Arial,sans-serif");
  });
  g.append("rect").attr("x",L).attr("y",top).attr("width",R-L).attr("height",panelH)
    .attr("fill","none").attr("stroke","#000").attr("stroke-width",1.3);
  const lt=g.append("text").attr("transform",`translate(${p.labelX},${(top+bot)/2}) rotate(-90)`)
    .attr("text-anchor","middle").style("font-size",FS+"px").attr("fill","#000");
  lt.append("tspan").text(p.label);
  if(p.sub) lt.append("tspan").attr("dy",7).style("font-size","19px").text(p.sub);
});

svg.append("text").attr("x",(L+R)/2).attr("y",980).attr("text-anchor","middle")
  .style("font-size",FS+"px").attr("fill","#000").text(xTitle);
</script></body></html>
